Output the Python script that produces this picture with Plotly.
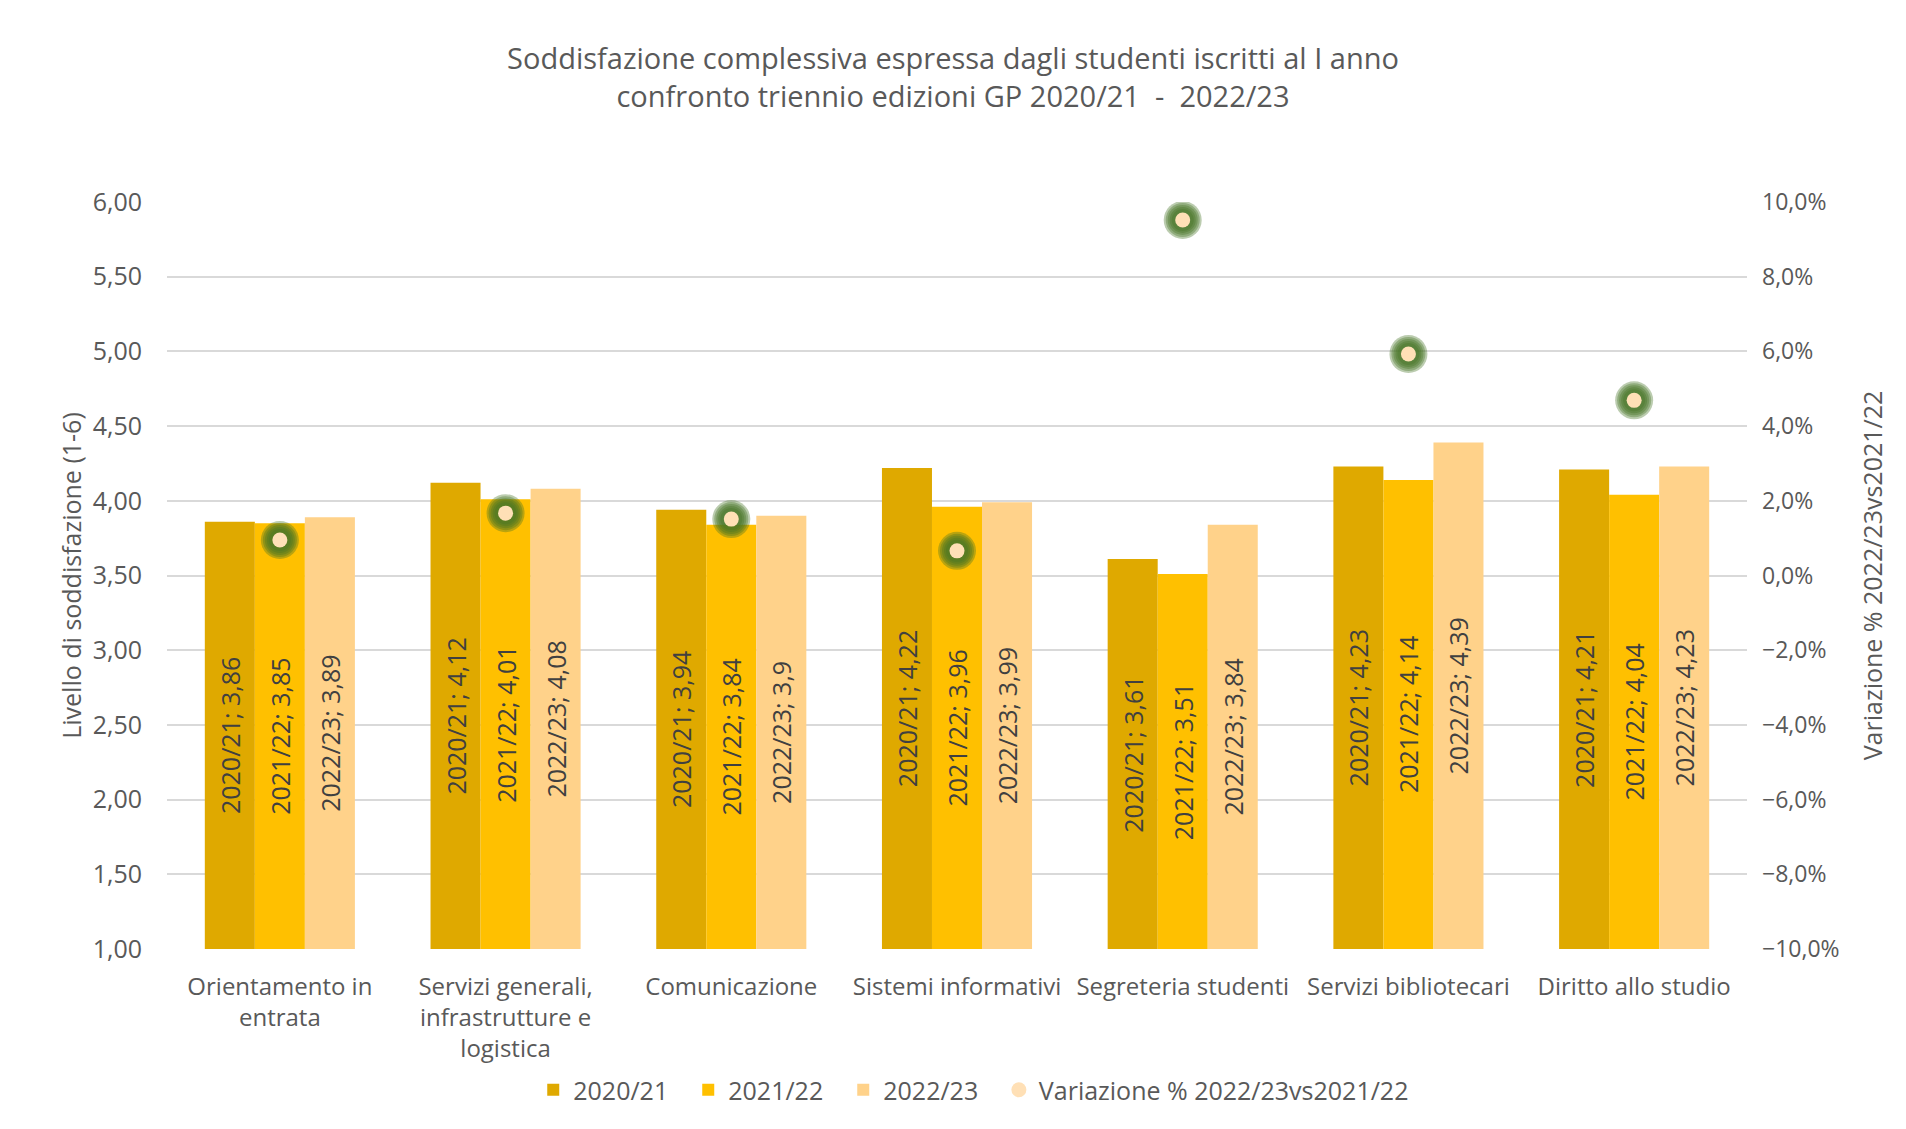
import plotly.graph_objects as go

# Survey areas (x categories)
categories = [
    "Orientamento in<br>entrata",
    "Servizi generali,<br>infrastrutture e<br>logistica",
    "Comunicazione",
    "Sistemi informativi",
    "Segreteria studenti",
    "Servizi bibliotecari",
    "Diritto allo studio",
]

# Mean satisfaction score (scale 1-6) per edition
years = ["2020/21", "2021/22", "2022/23"]
score_2020_21 = [3.86, 4.12, 3.94, 4.22, 3.61, 4.23, 4.21]
score_2021_22 = [3.85, 4.01, 3.84, 3.96, 3.51, 4.14, 4.04]
score_2022_23 = [3.89, 4.08, 3.90, 3.99, 3.84, 4.39, 4.23]

# Percentage change 2022/23 vs 2021/22
variation = [0.0095, 0.0167, 0.0151, 0.0066, 0.0952, 0.0593, 0.0469]

# Axis ticks
left_ticks = [1.0, 1.5, 2.0, 2.5, 3.0, 3.5, 4.0, 4.5, 5.0, 5.5, 6.0]
right_ticks = [-0.10, -0.08, -0.06, -0.04, -0.02, 0.0, 0.02, 0.04, 0.06, 0.08, 0.10]

bar_colors = ["#DFA900", "#FFC000", "#FFD28A"]
AXIS_MIN = 1.0

FONT = "'Open Sans', 'Noto Sans', sans-serif"
TEXT_GREY = "#595959"
LEGEND_Y = -(1090 - 949) / 747

fig = go.Figure()

for year, values, color in zip(years, [score_2020_21, score_2021_22, score_2022_23], bar_colors):
    fig.add_trace(go.Bar(
        name=year,
        x=categories,
        y=[v - AXIS_MIN for v in values],
        base=AXIS_MIN,
        marker=dict(color=color, line=dict(width=0)),
        text=[f"{year}; " + str(v).replace(".", ",") for v in values],
        textposition="inside",
        insidetextanchor="middle",
        textangle=-90,
        textfont=dict(family=FONT, size=25, color="#404040"),
        hovertemplate="%{text}<extra></extra>",
        legend="legend",
    ))

# soft green glow behind the variation markers
for size in [38, 34, 30, 26, 22]:
    fig.add_trace(go.Scatter(
        x=categories, y=variation, yaxis="y2", mode="markers",
        marker=dict(size=size, color="#467425", opacity=0.37, line=dict(width=0)),
        showlegend=False, hoverinfo="skip",
    ))

fig.add_trace(go.Scatter(
    name="Variazione % 2022/23vs2021/22",
    x=categories, y=variation, yaxis="y2", mode="markers",
    marker=dict(size=15, color="#FFE0B6", line=dict(width=0)),
    hovertemplate="%{y:.1%}<extra></extra>",
    legend="legend2",
))

legend_style = dict(
    orientation="h", yanchor="middle", y=LEGEND_Y, xanchor="left",
    font=dict(family=FONT, size=25, color=TEXT_GREY),
    itemwidth=30, traceorder="normal", bgcolor="rgba(0,0,0,0)",
)

fig.update_layout(
    width=1906, height=1129,
    margin=dict(l=167, r=159, t=202, b=180),
    paper_bgcolor="white", plot_bgcolor="white",
    separators=", ",
    barmode="group", bargap=0.335, bargroupgap=0,
    title=dict(
        text="Soddisfazione complessiva espressa dagli studenti iscritti al I anno<br>"
             "confronto triennio edizioni GP 2020/21  -  2022/23",
        x=0.5, xref="container", xanchor="center",
        y=1 - 69 / 1129, yref="container", yanchor="middle",
        font=dict(family=FONT, size=29, color=TEXT_GREY),
    ),
    xaxis=dict(
        showgrid=False, showline=False, zeroline=False,
        tickfont=dict(family=FONT, size=24, color=TEXT_GREY),
        ticklabelstandoff=21,
    ),
    yaxis=dict(
        range=[1, 6], tickvals=left_ticks, tickformat=".2f",
        showgrid=True, gridcolor="#D9D9D9", gridwidth=1.5,
        zeroline=False, showline=False,
        tickfont=dict(family=FONT, size=25, color=TEXT_GREY),
        ticklabelstandoff=24,
        title=dict(text="Livello di soddisfazione (1-6)", standoff=3,
                   font=dict(family=FONT, size=25, color=TEXT_GREY)),
    ),
    yaxis2=dict(
        overlaying="y", side="right", range=[-0.10, 0.10],
        tickvals=right_ticks, tickformat=".1%",
        showgrid=False, zeroline=False, showline=False,
        tickfont=dict(family=FONT, size=23, color=TEXT_GREY),
        ticklabelstandoff=14,
        title=dict(text="Variazione % 2022/23vs2021/22", standoff=25,
                   font=dict(family=FONT, size=25, color=TEXT_GREY)),
    ),
    legend=dict(legend_style, x=0.2318, entrywidth=110, entrywidthmode="pixels"),
    legend2=dict(legend_style, x=0.5265),
    showlegend=True,
)

fig.write_html("out.html")
